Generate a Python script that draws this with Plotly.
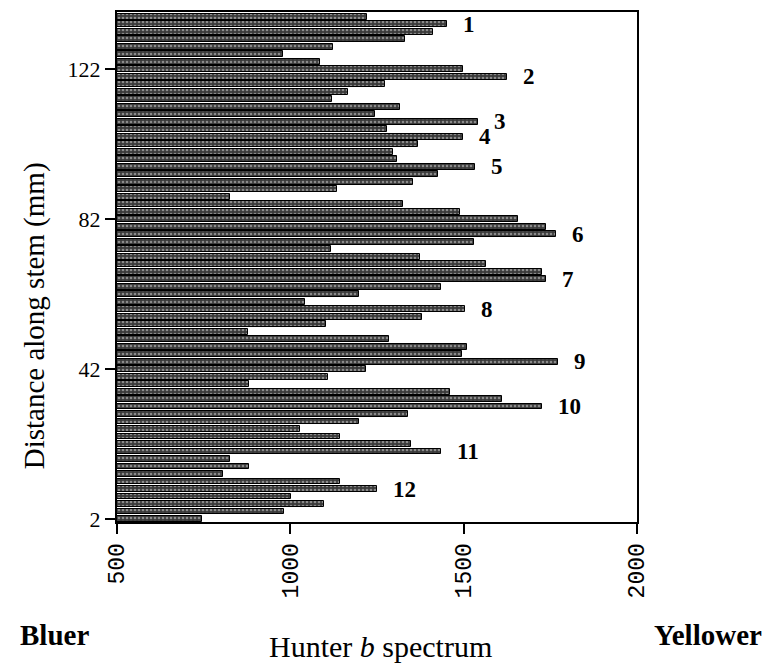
import plotly.graph_objects as go

# Distance along stem (mm), bottom to top
distance_mm = list(range(2, 138, 2))

# Hunter b values, listed bottom (2 mm) to top (136 mm)
hunter_b = [
    745, 982, 1097, 1002, 1250, 1143, 806, 881, 826, 1435,
    1348, 1143, 1028, 1198, 1340, 1726, 1610, 1461, 881, 1109,
    1218, 1772, 1495, 1510, 1285, 878, 1103, 1380, 1504, 1042,
    1198, 1435, 1737, 1726, 1565, 1374, 1117, 1531, 1767, 1737,
    1657, 1490, 1326, 826, 1135, 1354, 1426, 1533, 1308, 1296,
    1369, 1498, 1279, 1542, 1244, 1316, 1120, 1166, 1273, 1625,
    1498, 1086, 979, 1124, 1331, 1412, 1452, 1221,
]

# Peak labels and the distance of the bar each one marks
peak_labels = ["1", "2", "3", "4", "5", "6", "7", "8", "9", "10", "11", "12"]
peak_distance = [134, 120, 108, 104, 96, 78, 66, 58, 44, 32, 20, 10]

x_ticks = [500, 1000, 1500, 2000]
y_ticks = [2, 42, 82, 122]

fig = go.Figure()
fig.add_trace(go.Bar(
    x=hunter_b,
    y=distance_mm,
    orientation="h",
    width=1.55,
    marker=dict(
        color="#3a3a3a",
        line=dict(color="black", width=1),
        pattern=dict(shape=".", bgcolor="#3a3a3a", fgcolor="#dcdcdc",
                     size=4, solidity=0.35),
    ),
    showlegend=False,
))

serif = "Liberation Serif"
annotations = []
lookup = dict(zip(distance_mm, hunter_b))
for lab, d in zip(peak_labels, peak_distance):
    annotations.append(dict(
        x=lookup[d], y=d, xref="x", yref="y", text=f"<b>{lab}</b>",
        showarrow=False, xanchor="left", yanchor="middle", xshift=14,
        font=dict(family=serif, size=23, color="black"),
    ))

annotations += [
    dict(x=0.506, y=-0.245, xref="paper", yref="paper",
         text="Hunter <i>b</i> spectrum", showarrow=False,
         xanchor="center", yanchor="middle",
         font=dict(family=serif, size=30, color="black")),
    dict(x=-0.12, y=-0.222, xref="paper", yref="paper",
         text="<b>Bluer</b>", showarrow=False,
         xanchor="center", yanchor="middle",
         font=dict(family=serif, size=29, color="black")),
    dict(x=1.136, y=-0.222, xref="paper", yref="paper",
         text="<b>Yellower</b>", showarrow=False,
         xanchor="center", yanchor="middle",
         font=dict(family=serif, size=29, color="black")),
    dict(x=-0.158, y=0.405, xref="paper", yref="paper",
         text="Distance along stem (mm)", showarrow=False, textangle=-90,
         xanchor="center", yanchor="middle",
         font=dict(family=serif, size=29, color="black")),
]

fig.update_layout(
    width=766, height=668,
    margin=dict(l=117, r=129, t=10, b=146),
    paper_bgcolor="white", plot_bgcolor="white",
    bargap=0,
    annotations=annotations,
    xaxis=dict(
        range=[500, 2000], tickvals=x_ticks, ticktext=[str(v) for v in x_ticks],
        ticks="outside", ticklen=10, tickwidth=2, tickcolor="black",
        tickangle=-90, tickfont=dict(family="Liberation Mono", size=23, color="black"),
        showline=True, linecolor="black", linewidth=2, mirror=True,
        showgrid=False, zeroline=False,
    ),
    yaxis=dict(
        range=[1.2, 137.3], tickvals=y_ticks, ticktext=[str(v) for v in y_ticks],
        ticks="outside", ticklen=10, tickwidth=2, tickcolor="black",
        tickfont=dict(family=serif, size=22, color="black"),
        showline=True, linecolor="black", linewidth=2, mirror=True,
        showgrid=False, zeroline=False,
    ),
)

fig.write_html("out.html")
